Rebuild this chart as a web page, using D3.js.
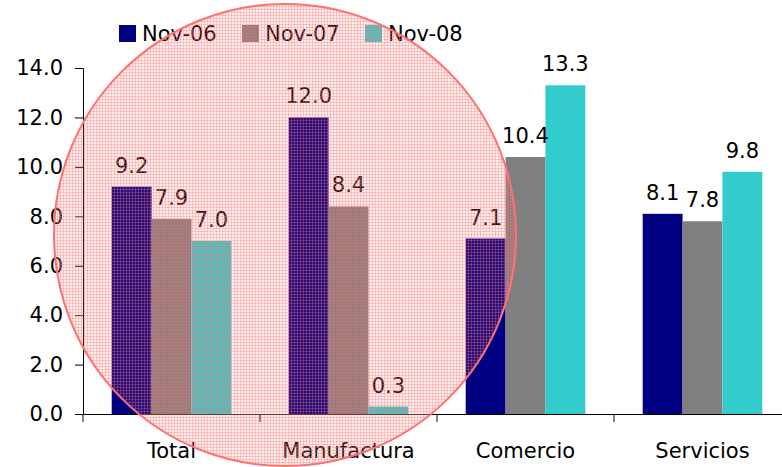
<!DOCTYPE html>
<html>
<head>
<meta charset="utf-8">
<script src="https://cdn.jsdelivr.net/npm/d3@7"></script>
<style>
  html, body { margin: 0; padding: 0; background: #fff; }
  svg { display: block; }
  svg text { font-family: "DejaVu Sans", sans-serif; font-size: 21px; fill: #000; }
</style>
</head>
<body>
<div id="chart"></div>
<script>
// Data
const categories = ['Total', 'Manufactura', 'Comercio', 'Servicios'];
const seriesNames = ['Nov-06', 'Nov-07', 'Nov-08'];
const nov06 = [9.2, 12.0, 7.1, 8.1];
const nov07 = [7.9, 8.4, 10.4, 7.8];
const nov08 = [7.0, 0.3, 13.3, 9.8];
const yTicks = [0, 2, 4, 6, 8, 10, 12, 14];
const colors = ['#000080', '#808080', '#33cccc'];

const seriesValues = [nov06, nov07, nov08];

// Chart dimensions
const svgWidth = 782;
const svgHeight = 467;
const margin = { top: 68, left: 83 };
const plotHeight = 346;
const bandWidth = 177;

const svg = d3.select('#chart')
    .append('svg')
    .attr('width', svgWidth)
    .attr('height', svgHeight);

// Scales
const x = d3.scaleBand()
    .domain(categories)
    .range([margin.left, margin.left + bandWidth * categories.length])
    .padding(0);
const xInner = d3.scaleBand()
    .domain(seriesNames)
    .range([0, x.bandwidth()])
    .paddingInner(0)
    .paddingOuter(0.72);
const y = d3.scaleLinear()
    .domain([0, 14])
    .range([margin.top + plotHeight, margin.top]);

// Bars
const groups = svg.selectAll('g.group')
    .data(categories)
    .enter()
    .append('g')
    .attr('class', 'group')
    .attr('transform', d => `translate(${x(d)},0)`);

const cells = (c, i) => seriesNames.map((s, j) => ({ s, j, v: seriesValues[j][i] }));

groups.selectAll('rect')
    .data(cells)
    .enter()
    .append('rect')
    .attr('x', d => xInner(d.s))
    .attr('y', d => y(d.v))
    .attr('width', xInner.bandwidth())
    .attr('height', d => y(0) - y(d.v))
    .attr('fill', d => colors[d.j]);

// Value labels
groups.selectAll('text.val')
    .data(cells)
    .enter()
    .append('text')
    .attr('class', 'val')
    .attr('x', d => xInner(d.s) + xInner.bandwidth() / 2)
    .attr('y', d => y(d.v) - 14)
    .attr('text-anchor', 'middle')
    .text(d => d.v.toFixed(1));

// Axes
const yAxis = svg.append('g')
    .attr('transform', `translate(${margin.left},0)`)
    .call(d3.axisLeft(y).tickValues(yTicks).tickFormat(d3.format('.1f')).tickSize(8).tickPadding(12));

const xAxis = svg.append('g')
    .attr('transform', `translate(0,${y(0)})`)
    .call(d3.axisBottom(x).tickSize(0).tickPadding(29));
// Category boundary ticks
xAxis.selectAll('line.bound')
    .data(d3.range(categories.length + 1))
    .enter()
    .append('line')
    .attr('class', 'bound')
    .attr('x1', i => margin.left + i * x.step())
    .attr('x2', i => margin.left + i * x.step())
    .attr('y1', 0)
    .attr('y2', 8)
    .attr('stroke', '#000');
svg.selectAll('.domain').attr('stroke', '#000');
svg.selectAll('.tick line').attr('stroke', '#000');

// Legend
const legend = svg.append('g');
seriesNames.forEach((name, i) => {
    const lx = 119 + i * 123;
    legend.append('rect')
        .attr('x', lx)
        .attr('y', 25)
        .attr('width', 17)
        .attr('height', 17)
        .attr('fill', colors[i]);
    legend.append('text')
        .attr('x', lx + 23)
        .attr('y', 41)
        .text(name);
});

// Highlight circle with fine grid pattern
const defs = svg.append('defs');
const pat = defs.append('pattern')
    .attr('id', 'grid')
    .attr('patternUnits', 'userSpaceOnUse')
    .attr('width', 3)
    .attr('height', 3);
pat.append('rect')
    .attr('width', 3)
    .attr('height', 3)
    .attr('fill', 'rgba(255,120,120,0.13)');
pat.append('rect')
    .attr('width', 3)
    .attr('height', 1)
    .attr('fill', 'rgba(255,110,110,0.32)');
pat.append('rect')
    .attr('width', 1)
    .attr('height', 3)
    .attr('fill', 'rgba(255,110,110,0.32)');

svg.append('circle')
    .attr('cx', 285)
    .attr('cy', 235)
    .attr('r', 231)
    .attr('fill', 'url(#grid)')
    .attr('stroke', '#ff7070')
    .attr('stroke-width', 2);
</script>
</body>
</html>
